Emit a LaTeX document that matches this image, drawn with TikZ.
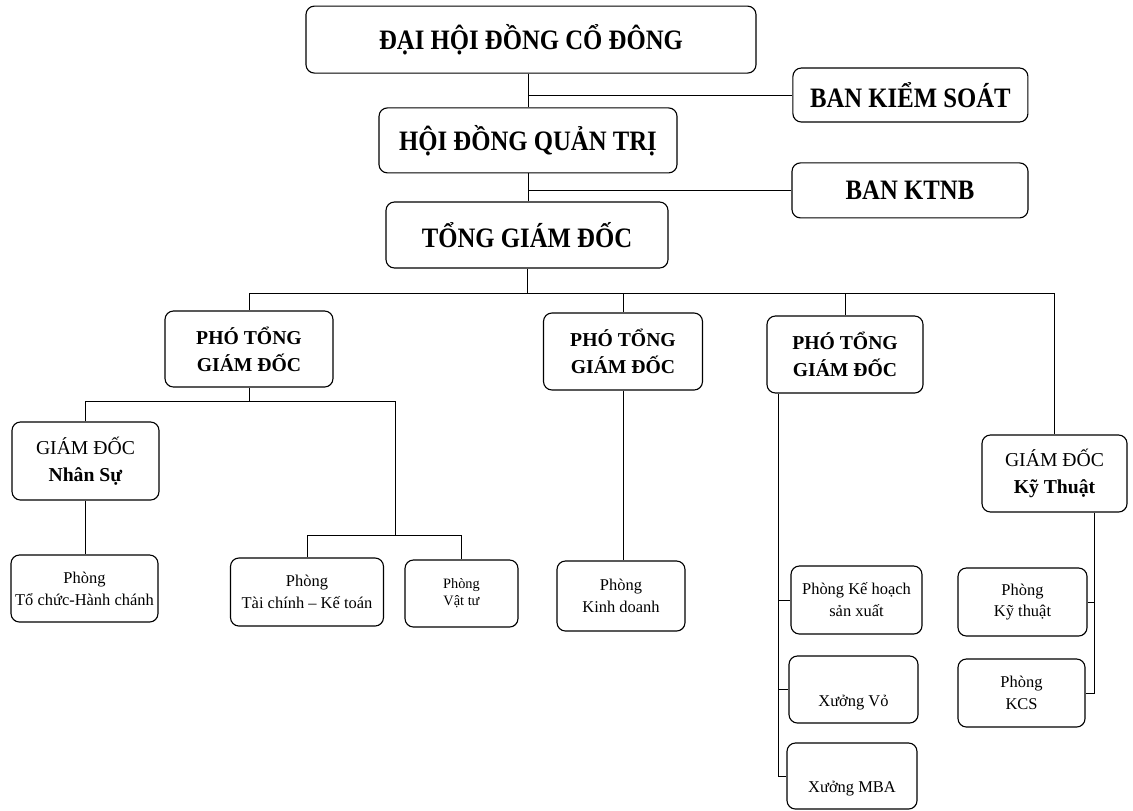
\documentclass[tikz,border=0pt]{standalone}
\usepackage{fontspec}
\setmainfont{Liberation Serif}
\newfontfamily\titlefont{Liberation Serif}[FakeStretch=0.88]
\usetikzlibrary{positioning}

\begin{document}
\begin{tikzpicture}[
    box/.style={draw, rounded corners=6pt, line width=0.8pt, align=center, inner sep=1pt},
    topbox/.style={box, font=\titlefont\bfseries\fontsize{20}{24}\selectfont},
    vpbox/.style={box, font=\bfseries\fontsize{14}{19}\selectfont},
    dirbox/.style={box, font=\fontsize{14}{19}\selectfont},
    deptbox/.style={box, font=\fontsize{11.7}{15.5}\selectfont},
    link/.style={line width=0.7pt},
]
\useasboundingbox (0,0) rectangle (28.325,-20.25);

% Top levels
\node[topbox, minimum width=11.25cm, minimum height=1.675cm] (dhdcd) at (13.275,-0.99) {ĐẠI HỘI ĐỒNG CỔ ĐÔNG};
\node[topbox, minimum width=7.45cm, minimum height=1.625cm] (hdqt) at (13.2,-3.51) {HỘI ĐỒNG QUẢN TRỊ};
\node[topbox, minimum width=7.05cm, minimum height=1.65cm] (tgd) at (13.175,-5.875) {TỔNG GIÁM ĐỐC};
\node[topbox, minimum width=5.875cm, minimum height=1.35cm] (bks) at (22.76,-2.375) {BAN KIỂM SOÁT};
\node[topbox, minimum width=5.9cm, minimum height=1.375cm] (ktnb) at (22.75,-4.76) {BAN KTNB};

% Deputies and directors
\node[vpbox, minimum width=4.2cm, minimum height=1.9cm] (ptgd1) at (6.225,-8.725) {PHÓ TỔNG\\GIÁM ĐỐC};
\node[vpbox, minimum width=3.975cm, minimum height=1.925cm] (ptgd2) at (15.575,-8.7875) {PHÓ TỔNG\\GIÁM ĐỐC};
\node[vpbox, minimum width=3.9cm, minimum height=1.925cm] (ptgd3) at (21.125,-8.8625) {PHÓ TỔNG\\GIÁM ĐỐC};
\node[dirbox, minimum width=3.625cm, minimum height=1.925cm] (gdkt) at (26.3625,-11.8375) {GIÁM ĐỐC\\\textbf{Kỹ Thuật}};
\node[dirbox, minimum width=3.675cm, minimum height=1.95cm] (gdns) at (2.1375,-11.525) {GIÁM ĐỐC\\\textbf{Nhân Sự}};

% Departments
\node[deptbox, minimum width=3.675cm, minimum height=1.675cm] (tchc) at (2.1125,-14.7125) {Phòng\\Tổ chức-Hành chánh};
\node[deptbox, minimum width=3.825cm, minimum height=1.7cm] (tckt) at (7.675,-14.8) {Phòng\\Tài chính -- Kế toán};
\node[deptbox, font=\fontsize{10.2}{12}\selectfont, minimum width=2.825cm, minimum height=1.675cm] (vattu) at (11.5375,-14.8375) {Phòng\\Vật tư};
\node[deptbox, minimum width=3.2cm, minimum height=1.75cm] (kd) at (15.525,-14.9) {Phòng\\Kinh doanh};
\node[deptbox, minimum width=3.275cm, minimum height=1.7cm] (khsx) at (21.4125,-15.0) {Phòng Kế hoạch\\sản xuất};
\node[deptbox, minimum width=3.225cm, minimum height=1.675cm] (xvo) at (21.3375,-17.2375) {\strut\\Xưởng Vỏ};
\node[deptbox, minimum width=3.25cm, minimum height=1.65cm] (xmba) at (21.3,-19.4) {\strut\\Xưởng MBA};
\node[deptbox, minimum width=3.225cm, minimum height=1.7cm] (pkt) at (25.5625,-15.05) {Phòng\\Kỹ thuật};
\node[deptbox, minimum width=3.175cm, minimum height=1.7cm] (kcs) at (25.5375,-17.325) {Phòng\\KCS};

% Connectors, top
\draw[link] (hdqt.north |- dhdcd.south) -- (hdqt.north);
\draw[link] (hdqt.north |- bks.west) -- (bks.west);
\draw[link] (hdqt.south) -- (hdqt.south |- tgd.north);
\draw[link] (hdqt.south |- ktnb.west) -- (ktnb.west);

% Bus under TGD
\coordinate (bus) at (0,-7.325);
\draw[link] (tgd.south) -- (tgd.south |- bus);
\draw[link] (ptgd1.north |- bus) -- (gdkt.north |- bus);
\foreach \n in {ptgd1,ptgd2,ptgd3,gdkt}
    \draw[link] (\n.north |- bus) -- (\n.north);

% First deputy branch
\coordinate (br1) at (0,-10.025);
\coordinate (fin) at (9.875,-13.375);
\draw[link] (ptgd1.south) -- (ptgd1.south |- br1);
\draw[link] (gdns.north) |- (fin |- br1) -- (fin);
\draw[link] (tckt.north) |- (fin) -| (vattu.north);
\draw[link] (gdns.south) -- (gdns.south |- tchc.north);

% Second and third deputies
\draw[link] (ptgd2.south) -- (ptgd2.south |- kd.north);
\coordinate (sp3) at (19.45,0);
\draw[link] (sp3 |- ptgd3.south) |- (xmba.west);
\foreach \n in {khsx,xvo}
    \draw[link] (sp3 |- \n.west) -- (\n.west);

% Technical director
\coordinate (spk) at (27.35,0);
\draw[link] (spk |- gdkt.south) |- (kcs.east);
\draw[link] (spk |- pkt.east) -- (pkt.east);
\end{tikzpicture}
\end{document}
